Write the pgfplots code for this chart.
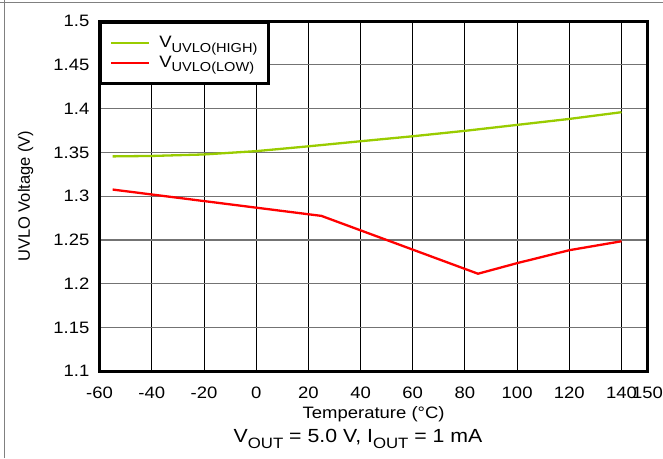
\documentclass[border=0pt]{standalone}
\usepackage{fontspec}
\setmainfont{Liberation Sans}[FakeStretch=1.12]
\newfontfamily\ylfont{Liberation Sans}
\usepackage{pgfplots}
\pgfplotsset{compat=1.18}
\definecolor{vgreen}{RGB}{153,204,0}
\definecolor{vred}{RGB}{255,0,0}
\newcommand{\sub}[2]{\raisebox{-0.28em}{\fontsize{#1}{#1}\selectfont #2}}
\begin{document}
\begin{tikzpicture}
\fontsize{16.5}{20}\selectfont
\begin{axis}[
  at={(99.6pt,86.8pt)}, anchor=south west,
  scale only axis, width=548pt, height=350pt,
  xmin=-60, xmax=150, ymin=1.1, ymax=1.5,
  xtick={-60,-40,-20,0,20,40,60,80,100,120,140,150},
  xticklabels={-60,-40,-20,0,20,40,60,80,100,120,140,150},
  ytick={1.1,1.15,1.2,1.25,1.3,1.35,1.4,1.45,1.5},
  yticklabels={1.1,1.15,1.2,1.25,1.3,1.35,1.4,1.45,1.5},
  major tick length=0pt,
  grid=major,
  x grid style={black, line width=0.9pt},
  y grid style={black!55, line width=1.1pt},
  axis line style={black, line width=2.8pt},
  tick label style={font=\fontsize{16.5}{20}\selectfont, inner sep=0pt},
  xticklabel style={anchor=north, yshift=-16pt},
  yticklabel style={anchor=east, xshift=-10pt},
  xlabel={Temperature (\textdegree C)},
  xlabel style={at={(rel axis cs:0.5,0)}, anchor=center, yshift=-43.5pt, font=\fontsize{16.5}{20}\selectfont},
  ylabel={\ylfont UVLO Voltage (V)},
  ylabel style={at={(axis description cs:-0.135,0.5)}, anchor=center, font=\fontsize{16.5}{20}\selectfont},
  legend style={at={(rel axis cs:0,1)}, anchor=north west, draw=black, line width=2.8pt,
    inner xsep=9pt, inner ysep=11.5pt, row sep=2pt, column sep=7pt,
    font=\fontsize{16.5}{20}\selectfont, cells={anchor=west}},
  legend cell align=left,
  legend image code/.code={\draw[#1] (0pt,0pt) -- (38pt,0pt);},
]
\addplot[vgreen, line width=2.3pt] coordinates {
(-55,1.3455)(-40,1.3460)(-20,1.3477)(-10,1.3496)(0,1.3515)(20,1.3570)(40,1.3628)(60,1.3685)(80,1.3747)(100,1.3815)(120,1.3883)(140,1.3960)};
\addlegendentry{V\sub{13}{UVLO(HIGH)}}
\addplot[vred, line width=2.3pt] coordinates {
(-55,1.3076)(25,1.2775)(85,1.2114)(100,1.2235)(120,1.2383)(140,1.2485)};
\addlegendentry{V\sub{13}{UVLO(LOW)}}
\end{axis}
\draw[black!50, line width=1pt] (0pt,455.3pt) -- (663pt,455.3pt);
\draw[black!50, line width=1pt] (4pt,0pt) -- (4pt,458pt);
\node[anchor=base, font=\fontsize{19}{22}\selectfont] at (358pt,15.3pt) {V\sub{15}{OUT} = 5.0 V, I\sub{15}{OUT} = 1 mA};
\pgfresetboundingbox
\path[use as bounding box] (0pt,0pt) rectangle (663pt,458pt);
\end{tikzpicture}
\end{document}
